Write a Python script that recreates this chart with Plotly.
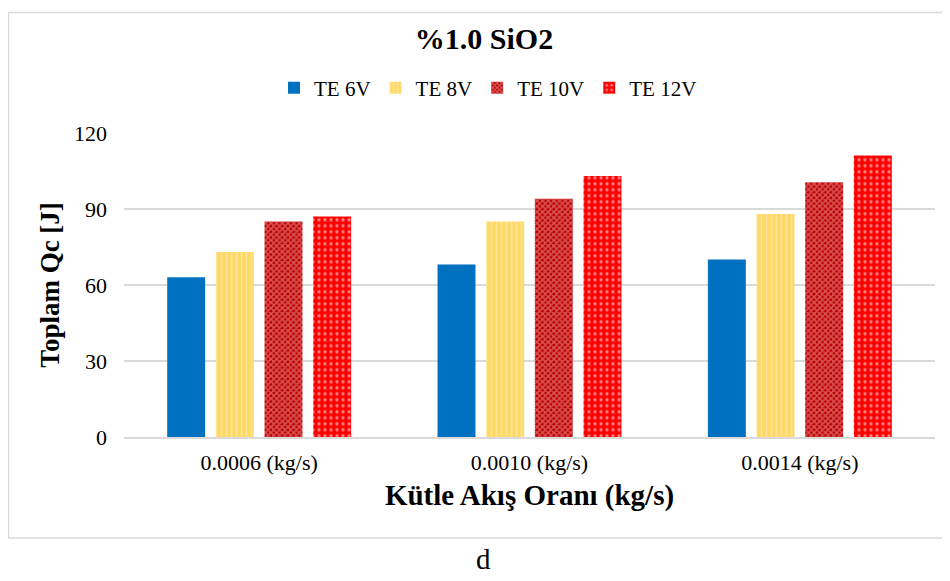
import plotly.graph_objects as go

categories = ["0.0006 (kg/s)", "0.0010 (kg/s)", "0.0014 (kg/s)"]
series_names = ["TE 6V", "TE 8V", "TE 10V", "TE 12V"]
te_6v = [63, 68, 70]
te_8v = [73, 85, 88]
te_10v = [85, 94, 100.5]
te_12v = [87, 103, 111]

colors = ["#0070C0", "#FFD966", "#C00000", "#FF0000"]
patterns = [
    dict(shape=""),
    dict(shape="|", fgcolor="#FFF2CC", bgcolor="#FFD966", size=5, solidity=0.3),
    dict(shape="x", fgcolor="#F0B4B4", bgcolor="#C00000", size=4, solidity=0.6),
    dict(shape=".", fgcolor="#FFFFFF", bgcolor="#FF0000", size=6, solidity=0.25),
]

SERIF = "Liberation Serif"
OFF = 8  # page body margin in the browser
W, H = 950 - OFF, 581 - OFF
ML, MR, MT, MB = 124 - OFF, 15, 130 - OFF, H - (437 - OFF)

fig = go.Figure()
for name, vals, col, pat in zip(series_names, [te_6v, te_8v, te_10v, te_12v], colors, patterns):
    fig.add_trace(go.Bar(
        x=categories, y=vals, name=name,
        marker=dict(color=col, pattern=pat, line=dict(width=0)),
    ))

pw = W - ML - MR
ph = H - MT - MB


def px_x(x):
    return (x - OFF - ML) / pw


def px_y(y):
    return (H - MB - (y - OFF)) / ph


fig.update_layout(
    width=W, height=H,
    margin=dict(l=ML, r=MR, t=MT, b=MB),
    paper_bgcolor="white", plot_bgcolor="white",
    font=dict(family=SERIF, color="black", size=21),
    title=dict(text="<b>%1.0 SiO2</b>", x=px_x(484), xanchor="center", xref="paper",
               y=1 - (38 - OFF) / H, yanchor="middle",
               font=dict(family=SERIF, size=30)),
    legend=dict(orientation="h", x=px_x(488), xanchor="center", xref="paper",
                y=1 - (88 - OFF) / H, yanchor="middle", yref="container",
                font=dict(family=SERIF, size=21), traceorder="normal", itemwidth=30),
    barmode="group", bargap=0.28, bargroupgap=0.22,
    xaxis=dict(title=dict(text="<b>Kütle Akış Oranı (kg/s)</b>", font=dict(family=SERIF, size=29), standoff=11),
               tickfont=dict(family=SERIF, size=22), ticklabelstandoff=5,
               showline=True, linecolor="#D9D9D9", linewidth=1.5,
               ticks="", showgrid=False),
    yaxis=dict(title=dict(text="<b>Toplam Qc [J]</b>", font=dict(family=SERIF, size=27), standoff=6),
               range=[0, 120], tickvals=[0, 30, 60, 90, 120], tickfont=dict(family=SERIF, size=22),
               ticklabelstandoff=16,
               showgrid=True, gridcolor="#D9D9D9", gridwidth=1.5, zeroline=False,
               ticks="", ticklen=0),
    shapes=[dict(type="rect", xref="paper", yref="paper",
                 x0=px_x(8.5), x1=px_x(948), y0=px_y(539), y1=px_y(OFF + 0.5),
                 line=dict(color="#D9D9D9", width=1.5), fillcolor="rgba(0,0,0,0)", layer="below")],
    annotations=[dict(text="d", xref="paper", yref="paper", x=px_x(483), y=px_y(560),
                      showarrow=False, font=dict(family=SERIF, size=29),
                      xanchor="center", yanchor="middle")],
)

fig.write_html("out.html")
